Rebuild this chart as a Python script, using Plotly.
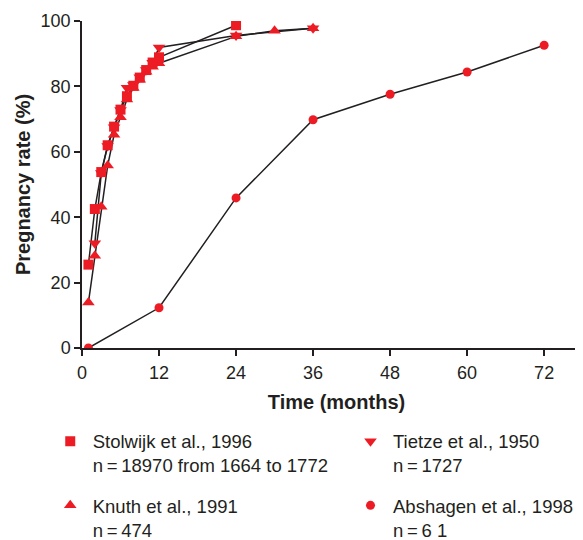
import plotly.graph_objects as go

# Stolwijk et al., 1996
stolwijk_months = [1, 2, 3, 4, 5, 6, 7, 8, 9, 10, 11, 12, 24]
stolwijk_rate = [25.5, 42.5, 53.8, 62, 67.7, 72.9, 77, 80.2, 82.7, 85, 87.3, 88.9, 98.7]

# Tietze et al., 1950
tietze_months = [2, 3, 4, 5, 6, 7, 8, 9, 10, 11, 12, 24, 36]
tietze_rate = [32, 53.5, 61.8, 67.5, 72.8, 79.6, 80.4, 82.8, 85, 87.2, 91.9, 95.6, 97.8]

# Knuth et al., 1991
knuth_months = [1, 2, 3, 4, 5, 6, 7, 8, 9, 10, 11, 12, 24, 30, 36]
knuth_rate = [13.9, 28.2, 43.2, 55.8, 65.2, 70.6, 76, 79.5, 82, 84.5, 86, 87.1, 95.3, 97, 97.8]

# Abshagen et al., 1998
abshagen_months = [1, 12, 24, 36, 48, 60, 72]
abshagen_rate = [0, 12.3, 45.9, 69.8, 77.6, 84.4, 92.6]

RED = '#ED1C24'
INK = '#231F20'

# name, x, y, symbol, size, which legend column
series = [
    ('Stolwijk et al., 1996<br>n\u2009=\u200918970 from 1664 to 1772',
     stolwijk_months, stolwijk_rate, 'square', 10, 'legend'),
    ('Knuth et al., 1991<br>n\u2009=\u2009474',
     knuth_months, knuth_rate, 'triangle-up', 11, 'legend'),
    ('Tietze et al., 1950<br>n\u2009=\u20091727',
     tietze_months, tietze_rate, 'triangle-down', 11, 'legend2'),
    ('Abshagen et al., 1998<br>n\u2009=\u20096 1',
     abshagen_months, abshagen_rate, 'circle', 9, 'legend2'),
]

fig = go.Figure()

# lines first so every marker sits on top of them
for name, xs, ys, sym, size, leg in series:
    fig.add_trace(go.Scatter(x=xs, y=ys, mode='lines', showlegend=False,
                             line=dict(color=INK, width=1.5), hoverinfo='skip'))

for i, (name, xs, ys, sym, size, leg) in enumerate(series):
    fig.add_trace(go.Scatter(x=xs, y=ys, mode='markers', name=name,
                             legend=leg, legendgroup='g%d' % i,
                             marker=dict(symbol=sym, size=size, color=RED)))

legend_style = dict(xanchor='left', yanchor='top', y=-0.2284, valign='top',
                    itemwidth=35, tracegroupgap=13, font=dict(size=18.5, color=INK),
                    bgcolor='rgba(0,0,0,0)')

# the page body adds an 8px offset, so margins are 8px smaller than the picture
fig.update_layout(
    width=583, height=540,
    margin=dict(l=74, r=0, t=13, b=200, autoexpand=False),
    plot_bgcolor='white', paper_bgcolor='white',
    font=dict(family='Liberation Sans, Arial, sans-serif', color=INK, size=17),
    showlegend=True,
    legend=dict(x=-0.0673, **legend_style),
    legend2=dict(x=0.5226, **legend_style),
)

fig.update_xaxes(range=[0, 79.3], tickvals=[0, 12, 24, 36, 48, 60, 72],
                 showline=True, linecolor=INK, linewidth=1.5, automargin=False,
                 ticks='outside', ticklen=6, tickwidth=1.5, tickcolor=INK,
                 ticklabelstandoff=2,
                 showgrid=False, zeroline=False, tickfont=dict(size=18),
                 title=dict(text='<b>Time (months)</b>', font=dict(size=20), standoff=13))
fig.update_yaxes(range=[0, 100], tickvals=[0, 20, 40, 60, 80, 100],
                 showline=True, linecolor=INK, linewidth=1.5, automargin=False,
                 ticks='outside', ticklen=6, tickwidth=1.5, tickcolor=INK,
                 showgrid=False, zeroline=False, tickfont=dict(size=18),
                 title=dict(text='<b>Pregnancy rate (%)</b>', font=dict(size=20), standoff=5))

fig.write_html("out.html")
